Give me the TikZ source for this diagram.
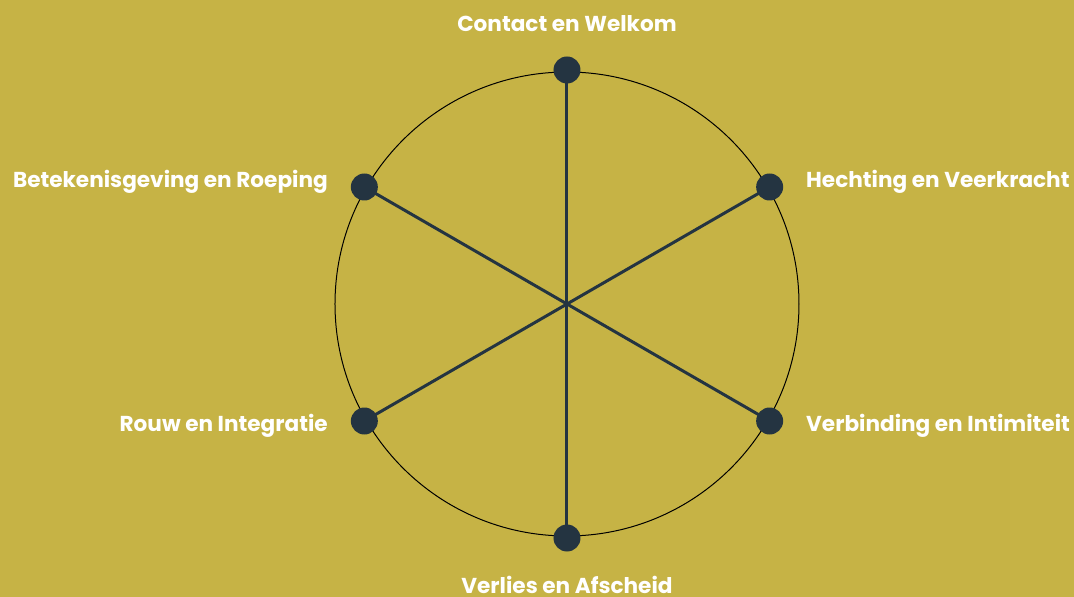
\documentclass[tikz,border=0pt]{standalone}
\usepackage{fontspec}
\setmainfont{Poppins}
\usepackage{tikz}
\usetikzlibrary{positioning, backgrounds}

\definecolor{mustard}{HTML}{C6B345}
\definecolor{slate}{HTML}{243441}

\tikzset{
    phase/.style={circle, fill=slate, inner sep=0pt, minimum size=27pt},
    spoke/.style={draw=slate, line width=3pt},
    label/.style={text=white, font=\fontsize{21.6}{26}\selectfont\bfseries, inner sep=0pt}
}

\begin{document}
\begin{tikzpicture}[x=1pt, y=1pt]
    % achtergrond
    \useasboundingbox (-567,-293) rectangle (507,304);

    % fasen
    \node[phase] (P1) at (90:234) {};
    \node[phase] (P2) at (30:234) {};
    \node[phase] (P3) at (-30:234) {};
    \node[phase] (P4) at (-90:234) {};
    \node[phase] (P5) at (210:234) {};
    \node[phase] (P6) at (150:234) {};

    % cirkel en spaken
    \begin{scope}[on background layer]
        \fill[mustard] (-567,-293) rectangle (507,304);
        \draw[black, line width=1pt] (0,0) circle (232);
        \draw[spoke] (P1.center) -- (P4.center);
        \draw[spoke] (P2.center) -- (P5.center);
        \draw[spoke] (P3.center) -- (P6.center);
    \end{scope}

    % labels
    \node[label, anchor=base] (L1) at (0,272) {Contact en Welkom};
    \node[label, anchor=base west] (L2) at (239,116) {Hechting en Veerkracht};
    \node[label, anchor=base west] (L3) at (239,-127) {Verbinding en Intimiteit};
    \node[label, anchor=base] (L4) at (0,-289) {Verlies en Afscheid};
    \node[label, anchor=base east] (L5) at (-239,-127) {Rouw en Integratie};
    \node[label, anchor=base east] (L6) at (-239,116) {Betekenisgeving en Roeping};
\end{tikzpicture}
\end{document}
